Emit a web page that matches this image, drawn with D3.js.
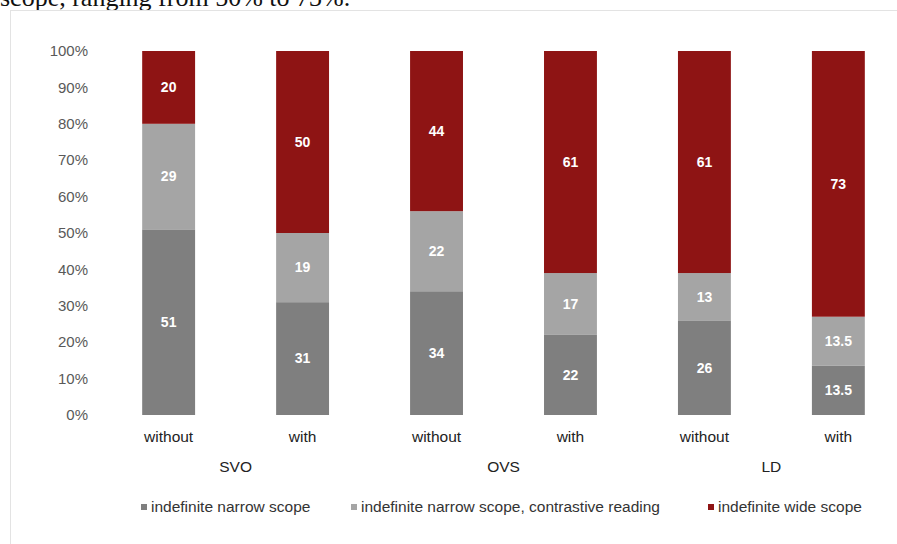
<!DOCTYPE html>
<html>
<head>
<meta charset="utf-8">
<script src="https://cdn.jsdelivr.net/npm/d3@7"></script>
<style>
  body { margin: 0; background: #fff; }
  svg text { font-family: "Liberation Sans", Arial, sans-serif; }
</style>
</head>
<body>
<svg id="chart" width="897" height="544"></svg>
<script>
// Data
const groups = ["SVO", "OVS", "LD"];
const conditions = ["without", "with"];
const seriesNames = [
  "indefinite narrow scope",
  "indefinite narrow scope, contrastive reading",
  "indefinite wide scope"
];
const narrow = [51, 31, 34, 22, 26, 13.5];
const contrastive = [29, 19, 22, 17, 13, 13.5];
const wide = [20, 50, 44, 61, 61, 73];
const yTicks = [0, 10, 20, 30, 40, 50, 60, 70, 80, 90, 100];
const colors = ["#7f7f7f", "#a5a5a5", "#8e1414"];

const svg = d3.select("#chart");

// page text above the chart frame, cropped at the top
svg.append("text")
  .attr("x", 0).attr("y", 6)
  .style("font-family", "'Liberation Serif', 'DejaVu Serif', serif")
  .style("font-size", "26px")
  .attr("fill", "#111")
  .text("scope, ranging from 50% to 73%.");

// chart frame
svg.append("rect")
  .attr("x", 10.5).attr("y", 10.5)
  .attr("width", 900).attr("height", 600)
  .attr("fill", "none").attr("stroke", "#e3e3e3");

// one column per (group, condition)
const cols = [];
groups.forEach(g => conditions.forEach(c => cols.push(g + "|" + c)));
const rows = cols.map((key, i) => ({
  key, narrow: narrow[i], contrastive: contrastive[i], wide: wide[i]
}));

const x = d3.scaleBand().domain(cols).range([102, 905]).paddingInner(0.605).paddingOuter(0.3);
const y = d3.scaleLinear().domain([0, 100]).range([415, 51]);

const stack = d3.stack().keys(["narrow", "contrastive", "wide"]);
const layers = stack(rows);

// y axis labels
svg.append("g")
  .selectAll("text")
  .data(yTicks)
  .join("text")
  .attr("x", 88)
  .attr("y", d => y(d))
  .attr("dy", "0.35em")
  .attr("text-anchor", "end")
  .attr("fill", "#595959")
  .style("font-size", "15px")
  .text(d => d + "%");

// bars
const layer = svg.append("g")
  .selectAll("g")
  .data(layers)
  .join("g")
  .attr("fill", (d, i) => colors[i]);

layer.selectAll("rect")
  .data(d => d)
  .join("rect")
  .attr("x", d => x(d.data.key))
  .attr("y", d => y(d[1]))
  .attr("width", x.bandwidth())
  .attr("height", d => y(d[0]) - y(d[1]));

// value labels
layer.selectAll("text")
  .data(d => d.map(p => ({ p, v: p[1] - p[0] })))
  .join("text")
  .attr("x", d => x(d.p.data.key) + x.bandwidth() / 2)
  .attr("y", d => y((d.p[0] + d.p[1]) / 2))
  .attr("dy", "0.35em")
  .attr("text-anchor", "middle")
  .attr("fill", "#fff")
  .style("font-size", "14px")
  .style("font-weight", "bold")
  .text(d => d.v);

// condition labels
svg.append("g")
  .selectAll("text")
  .data(cols)
  .join("text")
  .attr("x", d => x(d) + x.bandwidth() / 2)
  .attr("y", 442)
  .attr("text-anchor", "middle")
  .attr("fill", "#222")
  .style("font-size", "15.5px")
  .text(d => d.split("|")[1]);

// group labels
svg.append("g")
  .selectAll("text")
  .data(groups)
  .join("text")
  .attr("x", g => (x(g + "|without") + x(g + "|with") + x.bandwidth()) / 2)
  .attr("y", 472)
  .attr("text-anchor", "middle")
  .attr("fill", "#222")
  .style("font-size", "15.5px")
  .text(g => g);

// legend
const legendX = [141, 351, 708];
const legend = svg.append("g")
  .selectAll("g")
  .data(seriesNames)
  .join("g")
  .attr("transform", (d, i) => `translate(${legendX[i]},507)`);

legend.append("rect")
  .attr("x", 0).attr("y", -3)
  .attr("width", 6).attr("height", 6)
  .attr("fill", (d, i) => colors[i]);

legend.append("text")
  .attr("x", 10)
  .attr("dy", "0.35em")
  .attr("fill", "#333")
  .style("font-size", "15.5px")
  .text(d => d);
</script>
</body>
</html>
